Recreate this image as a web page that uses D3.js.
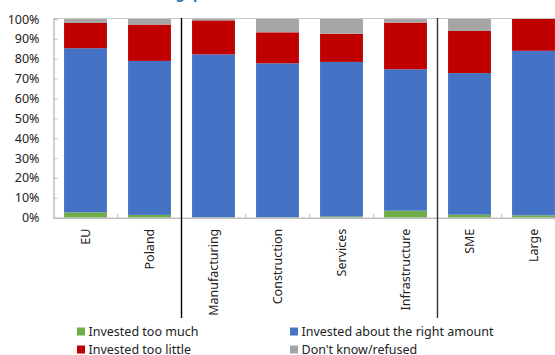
<!DOCTYPE html>
<html>
<head>
<meta charset="utf-8">
<script src="https://cdn.jsdelivr.net/npm/d3@7"></script>
<style>
  html, body { margin: 0; padding: 0; background: #fff; }
  svg { display: block; font-family: "Noto Sans", "Open Sans", sans-serif; }
</style>
</head>
<body>
<svg id="chart" width="555" height="355"></svg>
<script>
// ---- data ----
const categories = ["EU", "Poland", "Manufacturing", "Construction", "Services", "Infrastructure", "SME", "Large"];
const seriesNames = ["Invested too much", "Invested about the right amount", "Invested too little", "Don't know/refused"];
const tooMuch   = [2.7, 1.4, 0.2, 0.2, 0.6, 3.5, 1.5, 1.2];
const rightAmt  = [82.6, 77.5, 82.0, 77.5, 77.8, 71.2, 71.3, 82.8];
const tooLittle = [12.7, 18.3, 17.1, 15.6, 14.2, 23.5, 21.2, 16.0];
const dontKnow  = [2.0, 2.8, 0.7, 6.7, 7.4, 1.8, 6.0, 0.0];
const yTicks = [0, 10, 20, 30, 40, 50, 60, 70, 80, 90, 100];
const separatorsAfter = ["Poland", "Infrastructure"];
const titleText = "Investment gap";

const colors = ["#70ad47", "#4472c4", "#c00000", "#a5a5a5"];
const seriesValues = [tooMuch, rightAmt, tooLittle, dontKnow];

const svg = d3.select("#chart");
const pLeft = 53.5, pRight = 565.5, pTop = 19, pBottom = 217.7;

const x = d3.scaleBand().domain(categories).range([pLeft, pRight]).paddingInner(0.33).paddingOuter(0.165);
const y = d3.scaleLinear().domain([0, 100]).range([pBottom, pTop]);

// title fragment (cropped at top, as in the reference)
svg.append("text").attr("x", 91).attr("y", -1.5)
  .attr("fill", "#2e75b6").attr("font-size", 14).attr("font-weight", "bold")
  .text(titleText);

// stacked data
const rows = categories.map((c, i) => {
  const r = { cat: c };
  seriesNames.forEach((s, j) => r[s] = seriesValues[j][i]);
  return r;
});
const stack = d3.stack().keys(seriesNames)(rows);

// plot top border
svg.append("line").attr("x1", pLeft).attr("x2", pRight).attr("y1", pTop - 0.5).attr("y2", pTop - 0.5)
  .attr("stroke", "#c8c8c8").attr("stroke-width", 1);

// bars
svg.append("g").selectAll("g").data(stack).join("g")
  .attr("fill", (d, i) => colors[i])
  .selectAll("rect").data(d => d).join("rect")
  .attr("x", d => x(d.data.cat))
  .attr("width", x.bandwidth())
  .attr("y", d => y(d[1]))
  .attr("height", d => Math.max(0, y(d[0]) - y(d[1])));

// y axis
const yAxis = d3.axisLeft(y).tickValues(yTicks).tickFormat(d => d + "%").tickSize(-4).tickPadding(14);
const gy = svg.append("g").attr("transform", `translate(${pLeft},0)`).call(yAxis);
gy.select(".domain").attr("stroke", "#bfbfbf").attr("stroke-width", 1.5);
gy.selectAll(".tick line").attr("stroke", "#bfbfbf");
gy.selectAll("text").attr("font-size", 12.5).attr("fill", "#222").attr("font-family", "'Noto Sans', sans-serif");

// x axis line and boundary ticks
svg.append("line").attr("x1", pLeft).attr("x2", pRight).attr("y1", pBottom + 0.5).attr("y2", pBottom + 0.5)
  .attr("stroke", "#bfbfbf").attr("stroke-width", 1.5);
const step = x.step();
const boundaries = categories.slice(1).map(c => x(c) - (step - x.bandwidth()) / 2);
svg.append("g").selectAll("line").data(boundaries).join("line")
  .attr("x1", d => d).attr("x2", d => d).attr("y1", pBottom).attr("y2", pBottom - 4)
  .attr("stroke", "#bfbfbf").attr("stroke-width", 1);

// x labels rotated
svg.append("g").selectAll("text").data(categories).join("text")
  .attr("transform", d => `translate(${x(d) + x.bandwidth() / 2 + 4},${pBottom + 11}) rotate(-90)`)
  .attr("text-anchor", "end")
  .attr("font-size", 12.5).attr("fill", "#222")
  .text(d => d);

// separators
const sepColors = ["#000", "#333"];
separatorsAfter.forEach((c, i) => {
  const xs = x(c) + x.bandwidth() + (step - x.bandwidth()) / 2;
  svg.append("line").attr("x1", xs).attr("x2", xs).attr("y1", pTop - 1).attr("y2", 318)
    .attr("stroke", sepColors[i]).attr("stroke-width", 1.4);
});

// legend
const legendPos = [[77, 332], [290, 332], [77, 350], [290, 350]];
const legendOrder = [0, 1, 2, 3];
const lg = svg.append("g").selectAll("g").data(legendOrder).join("g")
  .attr("transform", (d, i) => `translate(${legendPos[i][0]},${legendPos[i][1]})`);
lg.append("rect").attr("x", 0).attr("y", -4.5).attr("width", 8).attr("height", 8).attr("fill", d => colors[d]);
lg.append("text").attr("x", 11.5).attr("y", 0).attr("dy", "0.35em")
  .attr("font-size", 12.5).attr("fill", "#222").text(d => seriesNames[d]);
</script>
</body>
</html>
